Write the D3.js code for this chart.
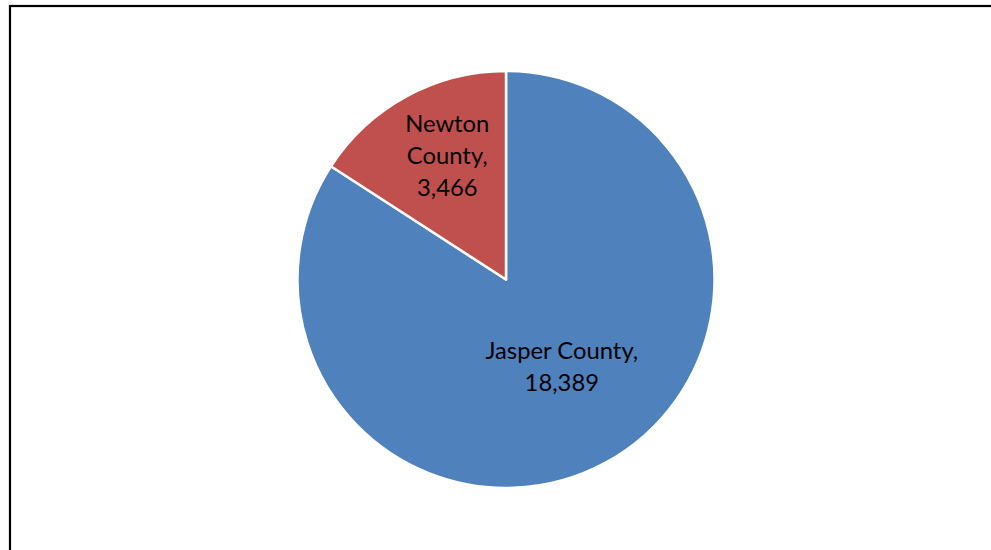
<!DOCTYPE html>
<html><head><meta charset="utf-8">
<script src="https://cdn.jsdelivr.net/npm/d3@7"></script>
<style>html,body{margin:0;padding:0;background:#fff;overflow:hidden}</style>
</head><body>
<svg id="c" width="991" height="550"></svg>
<script>
const categories = ["Jasper County", "Newton County"];
const values = [18389, 3466];
const colors = ["#4F81BD", "#C0504D"];
const labelRadiusFactor = [0.49, 0.66];

const svg = d3.select("#c");
svg.append("rect").attr("x", 10).attr("y", 6).attr("width", 1000).attr("height", 600)
  .attr("fill", "#fff").attr("stroke", "#000").attr("stroke-width", 2.2);

const cx = 506, cy = 279.5, r = 208.5;
const g = svg.append("g").attr("transform", `translate(${cx},${cy})`);
const pie = d3.pie().sort(null).value(d => d.v);
const data = pie(categories.map((c, i) => ({c, v: values[i], i})));
const arc = d3.arc().innerRadius(0).outerRadius(r);
g.selectAll("path").data(data).join("path")
  .attr("d", arc).attr("fill", d => colors[d.data.i])
  .attr("stroke", "#fff").attr("stroke-width", 2.5).attr("stroke-linejoin", "round");

const fmt = d3.format(",");
data.forEach(d => {
  const f = labelRadiusFactor[d.data.i];
  let [x, y] = d3.arc().innerRadius(r * f).outerRadius(r * f).centroid(d);
  x += 7; y -= 3;
  const lines = d.data.i === 0 ? [d.data.c + ",", fmt(d.data.v)] : ["Newton", "County,", fmt(d.data.v)];
  const t = g.append("text").attr("text-anchor", "middle")
    .attr("font-family", "Lato, 'Open Sans', sans-serif").attr("font-size", 23.8).attr("fill", "#000");
  const lh = 32;
  lines.forEach((l, k) => {
    t.append("tspan").attr("x", x).attr("y", y + (k - (lines.length - 1) / 2) * lh).attr("dy", "0.35em").text(l);
  });
});
</script>
</body></html>
